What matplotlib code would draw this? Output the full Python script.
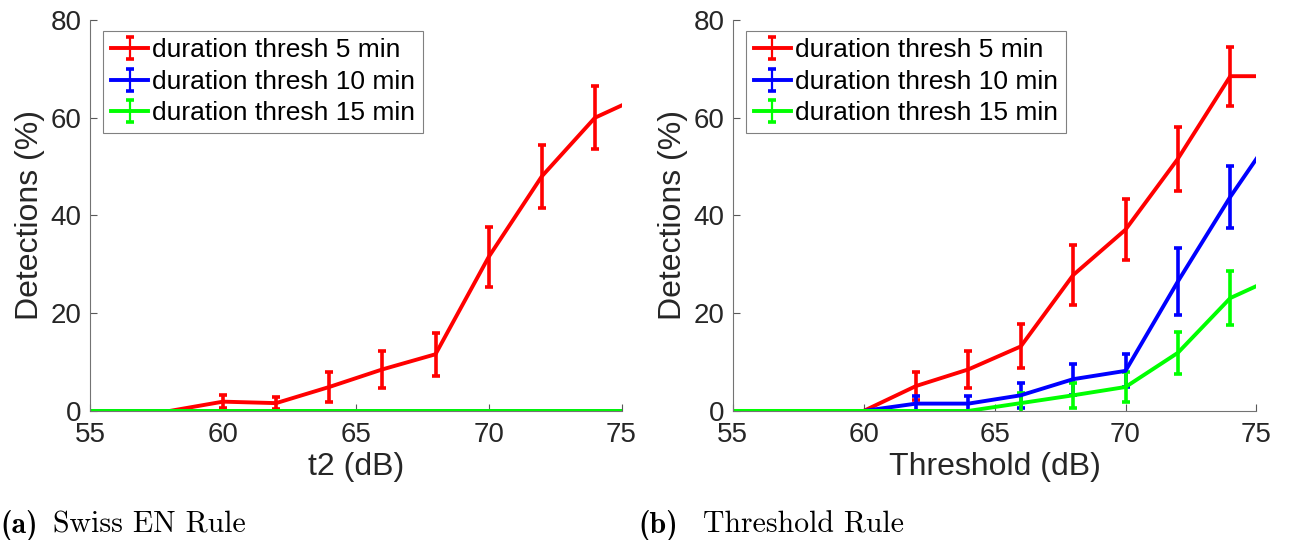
import numpy as np
import matplotlib
matplotlib.use('Agg')
import matplotlib.pyplot as plt
from matplotlib.container import ErrorbarContainer
from matplotlib.legend_handler import HandlerErrorbar

# detection rate vs. threshold level, mean +/- std
levels = [54, 56, 58, 60, 62, 64, 66, 68, 70, 72, 74, 76]
labels = ['duration thresh 5 min', 'duration thresh 10 min', 'duration thresh 15 min']

# (a) Swiss EN rule
swiss_5 = [0, 0, 0, 1.9, 1.6, 4.9, 8.5, 11.6, 31.5, 48.0, 60.0, 65.0]
swiss_5_err = [0, 0, 0, 1.4, 1.3, 3.0, 3.8, 4.4, 6.2, 6.4, 6.5, 6.5]
swiss_10 = [0, 0, 0, 0, 0, 0, 0, 0, 0, 0, 0, 0]
swiss_10_err = [0, 0, 0, 0, 0, 0, 0, 0, 0, 0, 0, 0]
swiss_15 = [0, 0, 0, 0, 0, 0, 0, 0, 0, 0, 0, 0]
swiss_15_err = [0, 0, 0, 0, 0, 0, 0, 0, 0, 0, 0, 0]

# (b) threshold rule
thr_5 = [0, 0, 0, 0, 5.1, 8.5, 13.2, 27.8, 37.1, 51.6, 68.5, 68.5]
thr_5_err = [0, 0, 0, 0, 2.9, 3.8, 4.5, 6.1, 6.3, 6.6, 6.0, 6.0]
thr_10 = [0, 0, 0, 0, 1.5, 1.5, 3.2, 6.5, 8.2, 26.5, 43.8, 59.4]
thr_10_err = [0, 0, 0, 0, 1.5, 1.5, 2.5, 3.2, 3.4, 6.8, 6.4, 6.5]
thr_15 = [0, 0, 0, 0, 0, 0, 1.6, 3.2, 4.9, 11.9, 23.1, 28.0]
thr_15_err = [0, 0, 0, 0, 0, 0, 2.0, 2.6, 3.0, 4.3, 5.5, 5.5]

colors = ['#ff0000', '#0000ff', '#00ff00']

plt.rcParams['font.family'] = 'Liberation Sans'

fig = plt.figure(figsize=(12.9, 5.4), dpi=100)
ax1 = fig.add_axes([0.0698, 0.239, 0.412, 0.724])
ax2 = fig.add_axes([0.568, 0.239, 0.406, 0.724])


def draw(ax, series, xlab):
    for (y, e), c, lab in zip(series, colors, labels):
        ax.errorbar(levels, y, yerr=e, color=c, lw=2.8, elinewidth=2.6,
                    capsize=3, capthick=2.6, label=lab)
    ax.set_xlim(55, 75)
    ax.set_ylim(0, 80)
    ax.set_xticks([55, 60, 65, 70, 75])
    ax.set_yticks([0, 20, 40, 60, 80])
    for s in ['top', 'right']:
        ax.spines[s].set_visible(False)
    for s in ['left', 'bottom']:
        ax.spines[s].set_color('0.45')
        ax.spines[s].set_linewidth(0.8)
    ax.tick_params(direction='in', length=5, width=0.8, color='0.35',
                   labelsize=20, labelcolor='0.15')
    ax.tick_params(axis='x', pad=8)
    ax.tick_params(axis='y', pad=6)
    ax.set_xlabel(xlab, fontsize=23, color='0.15', labelpad=3)
    ax.set_ylabel('Detections (%)', fontsize=23, color='0.15', labelpad=4)
    leg = ax.legend(loc='upper left', fontsize=19, handlelength=1.4,
                    handletextpad=0.15, borderpad=0.3, labelspacing=0.28,
                    borderaxespad=0.4, fancybox=False, framealpha=1,
                    bbox_to_anchor=(0.005, 1.0),
                    handler_map={ErrorbarContainer: HandlerErrorbar(xerr_size=0.42)})
    leg.get_frame().set_edgecolor('0.5')
    leg.get_frame().set_linewidth(0.8)
    for h in leg.legend_handles:
        h.set_linewidth(1.6)


draw(ax1, [(swiss_5, swiss_5_err), (swiss_10, swiss_10_err), (swiss_15, swiss_15_err)], 't2 (dB)')
draw(ax2, [(thr_5, thr_5_err), (thr_10, thr_10_err), (thr_15, thr_15_err)], 'Threshold (dB)')

# subfigure captions
fig.text(0.0, 0.013, '(a)', fontfamily='cmb10', fontsize=21.5, va='baseline')
fig.text(0.041, 0.013, 'Swiss EN Rule', fontfamily='cmr10', fontsize=21.5, va='baseline')
fig.text(0.495, 0.013, '(b)', fontfamily='cmb10', fontsize=21.5, va='baseline')
fig.text(0.545, 0.013, 'Threshold Rule', fontfamily='cmr10', fontsize=21.5, va='baseline')

fig.savefig('out.png', dpi=100)
